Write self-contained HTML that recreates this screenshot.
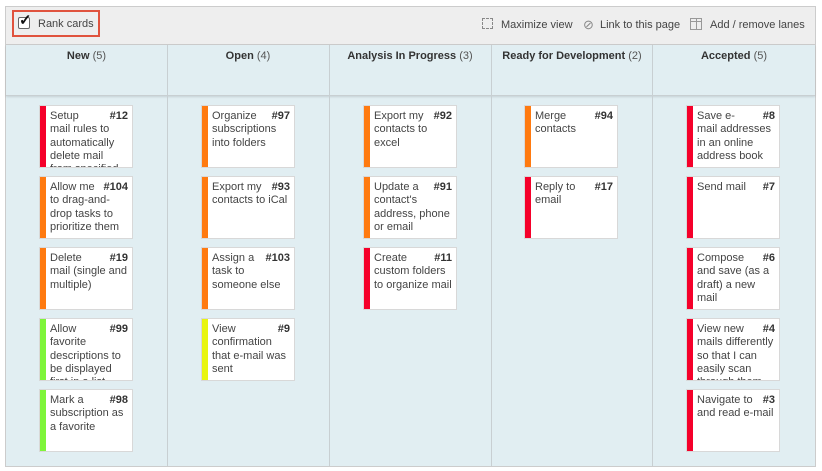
<!DOCTYPE html>
<html><head><style>
*{box-sizing:border-box;margin:0;padding:0}
body{width:822px;height:471px;background:#fff;font-family:"Liberation Sans",Arial,sans-serif;position:relative;overflow:hidden}
#outer{position:absolute;left:5px;top:6px;width:811px;height:461px;border:1px solid #ccc;background:#e1eef2}
#tb{position:absolute;left:0;top:0;width:809px;height:38px;background:#eeeeee;border-bottom:1px solid #ccc}
#rank{position:absolute;left:6px;top:3px;width:88px;height:27px;border:2px solid #e0533e;font-size:11px;color:#444;white-space:nowrap}
#rank .cb{position:absolute;left:4px;top:5px;width:12px;height:12px;border:1px solid #666;background:#fff;border-radius:2px}
#rank .ck{position:absolute;left:5px;top:-1px;font-size:15px;color:#111;font-weight:bold}
#rank .t{position:absolute;left:24px;top:6px}
.tl{position:absolute;top:12px;font-size:11px;color:#444;white-space:nowrap}
#hdr{position:absolute;left:0;top:38px;width:809px;height:51px;border-bottom:1px solid #c8cfd2;box-shadow:0 1px 2px rgba(0,0,0,.12)}
.h{position:absolute;top:5px;font-size:11px;color:#333;text-align:center;white-space:nowrap}
.h b{font-weight:bold}
.h span{color:#555}
.div{position:absolute;top:38px;width:1px;height:421px;background:#c8cfd2}
.card{position:absolute;width:94px;height:63px;background:#fff;border:1px solid #d8d8d8;overflow:hidden;font-size:11px;line-height:13.3px;color:#444}
.card .bar{position:absolute;left:0;top:0;width:6px;height:100%}
.card .tx{position:absolute;left:10px;top:4px;width:78px}
.card .n{float:right;font-weight:bold;color:#333;margin-left:8px}
</style></head><body>
<div id="outer">
<div id="tb">
<div id="rank"><div class="cb"></div><div class="ck">✓</div><div class="t">Rank cards</div></div>
<div class="tl" style="left:476px;top:11px;width:11px;height:11px;border:1px dashed #888"></div>
<div class="tl" style="left:495px">Maximize view</div>
<div class="tl" style="left:577px;color:#888;font-size:13px;top:10px">⊘</div>
<div class="tl" style="left:594px">Link to this page</div>
<div class="tl" style="left:684px;top:11px;width:12px;height:12px;border:1px solid #999"></div>
<div class="tl" style="left:684px;top:11px;width:12px;height:4px;border-bottom:1px solid #999"></div>
<div class="tl" style="left:690px;top:11px;width:1px;height:12px;background:#999"></div>
<div class="tl" style="left:704px">Add / remove lanes</div>
</div>
<div id="hdr">
<div class="h" style="left:0;width:161px"><b>New</b> <span>(5)</span></div>
<div class="h" style="left:161px;width:162px"><b>Open</b> <span>(4)</span></div>
<div class="h" style="left:323px;width:162px"><b>Analysis In Progress</b> <span>(3)</span></div>
<div class="h" style="left:485px;width:162px"><b>Ready for Development</b> <span>(2)</span></div>
<div class="h" style="left:647px;width:162px"><b>Accepted</b> <span>(5)</span></div>
</div>
<div class="div" style="left:161px"></div>
<div class="div" style="left:323px"></div>
<div class="div" style="left:485px"></div>
<div class="div" style="left:646px"></div>
</div>

<div class="card" style="left:39px;top:105px"><div class="bar" style="background:#f5002a"></div><div class="tx"><span class="n">#12</span>Setup mail rules to automatically delete mail from specified</div></div>
<div class="card" style="left:39px;top:176px"><div class="bar" style="background:#ff7a10"></div><div class="tx"><span class="n">#104</span>Allow me to drag-and-drop tasks to prioritize them</div></div>
<div class="card" style="left:39px;top:247px"><div class="bar" style="background:#ff7a10"></div><div class="tx"><span class="n">#19</span>Delete mail (single and multiple)</div></div>
<div class="card" style="left:39px;top:318px"><div class="bar" style="background:#7ef53a"></div><div class="tx"><span class="n">#99</span>Allow favorite descriptions to be displayed first in a list</div></div>
<div class="card" style="left:39px;top:389px"><div class="bar" style="background:#7ef53a"></div><div class="tx"><span class="n">#98</span>Mark a subscription as a favorite</div></div>

<div class="card" style="left:201px;top:105px"><div class="bar" style="background:#ff7a10"></div><div class="tx"><span class="n">#97</span>Organize subscriptions into folders</div></div>
<div class="card" style="left:201px;top:176px"><div class="bar" style="background:#ff7a10"></div><div class="tx"><span class="n">#93</span>Export my contacts to iCal</div></div>
<div class="card" style="left:201px;top:247px"><div class="bar" style="background:#ff7a10"></div><div class="tx"><span class="n">#103</span>Assign a task to someone else</div></div>
<div class="card" style="left:201px;top:318px"><div class="bar" style="background:#e8f510"></div><div class="tx"><span class="n">#9</span>View confirmation that e-mail was sent</div></div>

<div class="card" style="left:363px;top:105px"><div class="bar" style="background:#ff7a10"></div><div class="tx"><span class="n">#92</span>Export my contacts to excel</div></div>
<div class="card" style="left:363px;top:176px"><div class="bar" style="background:#ff7a10"></div><div class="tx"><span class="n">#91</span>Update a contact's address, phone or email</div></div>
<div class="card" style="left:363px;top:247px"><div class="bar" style="background:#f5002a"></div><div class="tx"><span class="n">#11</span>Create custom folders to organize mail</div></div>

<div class="card" style="left:524px;top:105px"><div class="bar" style="background:#ff7a10"></div><div class="tx"><span class="n">#94</span>Merge contacts</div></div>
<div class="card" style="left:524px;top:176px"><div class="bar" style="background:#f5002a"></div><div class="tx"><span class="n">#17</span>Reply to email</div></div>

<div class="card" style="left:686px;top:105px"><div class="bar" style="background:#f5002a"></div><div class="tx"><span class="n">#8</span>Save e-mail addresses in an online address book</div></div>
<div class="card" style="left:686px;top:176px"><div class="bar" style="background:#f5002a"></div><div class="tx"><span class="n">#7</span>Send mail</div></div>
<div class="card" style="left:686px;top:247px"><div class="bar" style="background:#f5002a"></div><div class="tx"><span class="n">#6</span>Compose and save (as a draft) a new mail</div></div>
<div class="card" style="left:686px;top:318px"><div class="bar" style="background:#f5002a"></div><div class="tx"><span class="n">#4</span>View new mails differently so that I can easily scan through them</div></div>
<div class="card" style="left:686px;top:389px"><div class="bar" style="background:#f5002a"></div><div class="tx"><span class="n">#3</span>Navigate to and read e-mail</div></div>
</body></html>
